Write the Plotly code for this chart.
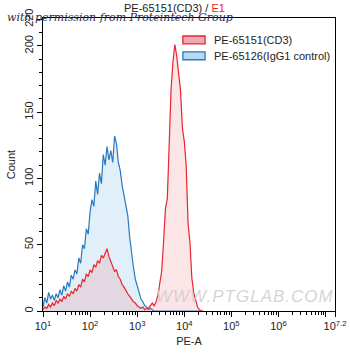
import plotly.graph_objects as go

# histogram channels in log10(PE-A) units
channel_log = [round(1.00 + 0.04 * i, 2) for i in range(86)]

cd3_counts = [1, 3, 2, 5, 3, 6, 4, 8, 6, 9,
              7, 11, 9, 13, 11, 15, 13, 17, 15, 20,
              18, 24, 22, 28, 26, 31, 29, 35, 33, 38,
              36, 42, 40, 43, 47, 41, 37, 34, 30, 31,
              26, 24, 20, 18, 15, 13, 11, 9, 7, 6,
              4, 3, 2, 3, 1, 2, 2, 4, 6, 4,
              7, 12, 20, 30, 52, 77, 85, 132, 168, 188,
              201, 192, 178, 166, 138, 128, 110, 66, 52, 25,
              14, 8, 3, 1, 0, 0]

igg_counts = [3, 10, 6, 14, 9, 12, 8, 13, 10, 16,
              12, 19, 15, 22, 18, 27, 24, 31, 28, 40,
              36, 50, 47, 62, 58, 75, 84, 79, 98, 88,
              104, 96, 118, 110, 124, 114, 121, 112, 132, 126,
              112, 106, 95, 88, 80, 72, 56, 42, 33, 24,
              18, 14, 9, 7, 4, 3, 1, 2, 1, 0,
              0, 0, 0, 0, 0, 0, 0, 0, 0, 0,
              0, 0, 0, 0, 0, 0, 0, 0, 0, 0,
              0, 0, 0, 0, 0, 0]

series_names = ["PE-65151(CD3)", "PE-65126(IgG1 control)"]
x_tick_exps = [1, 2, 3, 4, 5, 6, 7, 7.2]
x_tick_text = ["10<sup>1</sup>", "10<sup>2</sup>", "10<sup>3</sup>", "10<sup>4</sup>",
               "10<sup>5</sup>", "10<sup>6</sup>", "", "10<sup>7.2</sup>"]
y_tick_vals = [0, 50, 100, 150, 200, 220]

xvals = [10 ** v for v in channel_log]

red = "#e8242c"
blue = "#2a78bd"

fig = go.Figure()
fig.add_trace(go.Scatter(
    x=xvals, y=igg_counts, name=series_names[1], mode="lines", showlegend=False,
    line=dict(color=blue, width=1.2),
    fill="tozeroy", fillcolor="rgba(120,180,225,0.22)",
))
fig.add_trace(go.Scatter(
    x=xvals, y=cd3_counts, name=series_names[0], mode="lines", showlegend=False,
    line=dict(color=red, width=1.2),
    fill="tozeroy", fillcolor="rgba(240,110,120,0.18)",
))

minor_x = [k * 10 ** n for n in range(1, 8) for k in range(2, 10) if k * 10 ** n <= 10 ** 7.2]

font_main = "Liberation Sans, Arial, sans-serif"

fig.update_layout(
    width=350, height=353,
    margin=dict(l=43, r=15, t=18, b=42, autoexpand=False),
    paper_bgcolor="white", plot_bgcolor="white",
    font=dict(family=font_main, size=11, color="#222"),
    showlegend=False,
    xaxis=dict(type="log", range=[1, 7.2], showgrid=False, zeroline=False, automargin=False,
               showline=True, linecolor="black", linewidth=1, mirror=True,
               ticks="outside", ticklen=5, tickcolor="black",
               tickmode="array", tickvals=[10 ** e for e in x_tick_exps], ticktext=x_tick_text,
               minor=dict(tickmode="array", tickvals=minor_x, ticklen=3, tickcolor="black", showgrid=False),
               title=dict(text="PE-A", font=dict(size=11), standoff=6)),
    yaxis=dict(range=[0, 221], showgrid=False, zeroline=False, automargin=False,
               showline=True, linecolor="black", linewidth=1, mirror=True,
               ticks="outside", ticklen=5, tickcolor="black",
               tickmode="array", tickvals=y_tick_vals, tickangle=-90,
               minor=dict(dtick=10, ticklen=3, tickcolor="black", showgrid=False),
               title=dict(text="Count", font=dict(size=11), standoff=4)),
)

# legend drawn as swatches + labels (paper coordinates)
legend_fill = ["rgba(238,170,178,1)", "rgba(185,218,238,1)"]
legend_line = [red, blue]
legend_y = [0.925, 0.871]
for name, fc, lc, ly in zip(series_names, legend_fill, legend_line, legend_y):
    fig.add_shape(type="rect", xref="paper", yref="paper",
                  x0=0.479, x1=0.555, y0=ly - 0.0135, y1=ly + 0.0135,
                  fillcolor=fc, line=dict(color=lc, width=1.3))
    fig.add_annotation(text=name, xref="paper", yref="paper", x=0.579, y=ly,
                       xanchor="left", yanchor="middle", showarrow=False,
                       font=dict(size=11, color="#222"))

fig.add_annotation(text="PE-65151(CD3) / <span style='color:#e8242c'>E1</span>",
                   xref="paper", yref="paper", x=0.452, y=1.0, yshift=10,
                   showarrow=False, font=dict(size=11, color="#222"), yanchor="middle")
fig.add_annotation(text="<i>with permission from Proteintech Group</i>",
                   xref="paper", yref="paper", x=-0.13, y=1.0, yshift=1,
                   xanchor="left", yanchor="middle", showarrow=False,
                   font=dict(family="DejaVu Serif, serif", size=11, color="#2a2a4a"))
fig.add_annotation(text="<i><span style='letter-spacing:1px'>WWW.PTGLAB.COM</span></i>",
                   xref="paper", yref="paper", x=0.692, y=0.048,
                   xanchor="center", yanchor="middle", showarrow=False,
                   font=dict(family=font_main, size=17, color="rgba(205,205,205,0.85)"))

fig.write_html("out.html")
